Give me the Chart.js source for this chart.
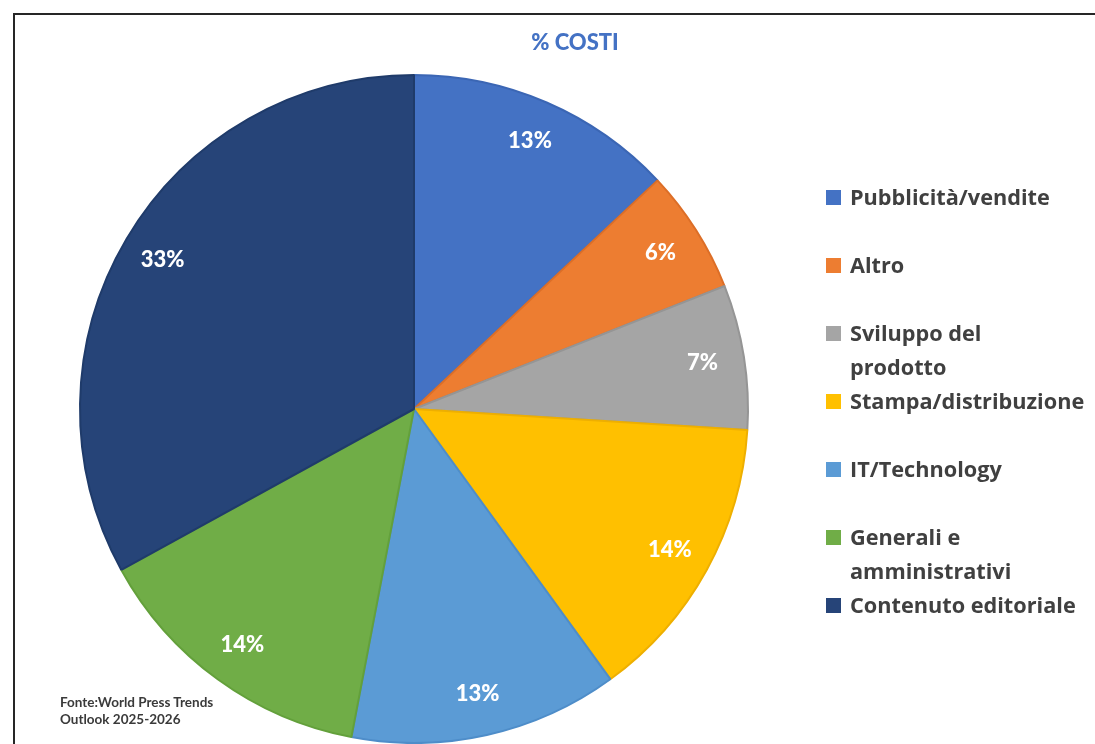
<!DOCTYPE html>
<html>
<head>
<meta charset="utf-8">
<script src="https://cdn.jsdelivr.net/npm/chart.js@4/dist/chart.umd.min.js"></script>
<style>
  html, body { margin:0; padding:0; background:#fff; overflow:hidden; }
  #wrap { position:relative; width:1095px; height:744px; overflow:hidden; background:#fff; }
  #frame { position:absolute; left:13px; top:13px; width:1200px; height:800px; border-top:2px solid #262626; border-left:2px solid #262626; }
  #c { position:absolute; left:0; top:0; }
  #title { position:absolute; left:475px; width:200px; top:28px; text-align:center; font-family:Lato, "Open Sans", sans-serif; font-weight:900; font-size:22px; color:#4472C4; line-height:28px; }
  .item { position:absolute; left:826px; display:flex; font-family:"Open Sans", Lato, sans-serif; font-weight:700; font-size:21.7px; line-height:34px; color:#404040; white-space:nowrap; }
  .mark { width:15px; height:15px; margin-top:10px; margin-right:9px; flex:none; }
  #src { position:absolute; left:60px; top:694px; font-family:Lato, "Open Sans", sans-serif; font-weight:700; font-size:13.5px; line-height:17px; color:#3a3a3a; }
</style>
</head>
<body>
<div id="wrap">
  <div id="frame"></div>
  <canvas id="c" width="1095" height="744"></canvas>
  <div id="title"></div>
  <div id="legend"></div>
  <div id="src"></div>
</div>
<script>
const chartTitle = "% COSTI";
const categories = [
  ["Pubblicità/vendite"],
  ["Altro"],
  ["Sviluppo del", "prodotto"],
  ["Stampa/distribuzione"],
  ["IT/Technology"],
  ["Generali e", "amministrativi"],
  ["Contenuto editoriale"]
];
const costShares = [13, 6, 7, 14, 13, 14, 33];
const sliceColors = ["#4472C4", "#ED7D31", "#A5A5A5", "#FFC000", "#5B9BD5", "#70AD47", "#264478"];
const sliceEdges  = ["#3B66B4", "#DC6E27", "#959595", "#EEAF00", "#4E8DC9", "#63A03B", "#1F3B6A"];
const sourceLines = ["Fonte:World Press Trends", "Outlook 2025-2026"];

document.getElementById('title').textContent = chartTitle;
document.getElementById('src').innerHTML = sourceLines.join('<br>');

const legend = document.getElementById('legend');
categories.forEach((lines, i) => {
  const it = document.createElement('div');
  it.className = 'item';
  it.style.top = (180 + 68 * i) + 'px';
  const m = document.createElement('div');
  m.className = 'mark';
  m.style.background = sliceColors[i];
  const t = document.createElement('div');
  t.innerHTML = lines.join('<br>');
  it.appendChild(m); it.appendChild(t);
  legend.appendChild(it);
});

const labelPlugin = {
  id: 'sliceLabels',
  afterDatasetsDraw(chart) {
    const ctx = chart.ctx;
    const meta = chart.getDatasetMeta(0);
    ctx.save();
    ctx.fillStyle = '#ffffff';
    ctx.font = '900 22px Lato, "Open Sans", sans-serif';
    ctx.textAlign = 'center';
    ctx.textBaseline = 'middle';
    meta.data.forEach((arc, i) => {
      const p = arc.getProps(['x', 'y', 'startAngle', 'endAngle', 'outerRadius'], true);
      const a = (p.startAngle + p.endAngle) / 2;
      const r = p.outerRadius - 42;
      ctx.fillText(costShares[i] + '%', p.x + Math.cos(a) * r, p.y + Math.sin(a) * r);
    });
    ctx.restore();
  }
};

new Chart(document.getElementById('c'), {
  type: 'pie',
  data: {
    labels: categories.map(l => l.join(' ')),
    datasets: [{
      data: costShares,
      backgroundColor: sliceColors,
      borderColor: sliceEdges,
      borderWidth: 2
    }]
  },
  options: {
    responsive: false,
    animation: false,
    devicePixelRatio: 1,
    radius: 334,
    layout: { padding: { top: 74, bottom: 0, left: 0, right: 267 } },
    plugins: {
      legend: { display: false },
      title: { display: false },
      tooltip: { enabled: false }
    },
    events: []
  },
  plugins: [labelPlugin]
});
</script>
</body>
</html>
